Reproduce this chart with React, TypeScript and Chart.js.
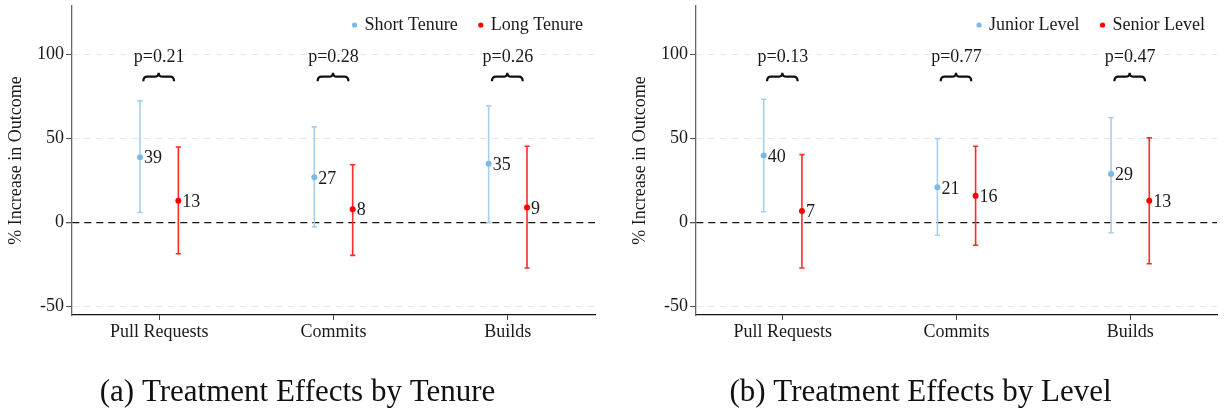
import React, { useEffect, useRef } from 'react';
import { Chart, registerables } from 'chart.js';

Chart.register(...registerables);

// ---- data -------------------------------------------------------------
const categories = ['Pull Requests', 'Commits', 'Builds'];
const yTicks = [-50, 0, 50, 100];

const tenureGroups = ['Short Tenure', 'Long Tenure'];
const shortTenureEst = [39, 27, 35];
const shortTenureLow = [6, -2.5, 0];
const shortTenureHigh = [72.5, 57, 69.5];
const longTenureEst = [13, 8, 9];
const longTenureLow = [-18.5, -19.5, -27];
const longTenureHigh = [45, 34.5, 45.5];
const tenurePValues = ['p=0.21', 'p=0.28', 'p=0.26'];

const levelGroups = ['Junior Level', 'Senior Level'];
const juniorEst = [40, 21, 29];
const juniorLow = [6.5, -7.5, -6];
const juniorHigh = [73.5, 50, 62.5];
const seniorEst = [7, 16, 13];
const seniorLow = [-27, -13.5, -24.5];
const seniorHigh = [40.5, 45.5, 50.5];
const levelPValues = ['p=0.13', 'p=0.77', 'p=0.47'];

// ---- styling ----------------------------------------------------------
const SERIF = '"Liberation Serif", "Times New Roman", Times, serif';
const TEXT = '#1a1a1a';
const pointColors = ['#7DB9E6', '#FF0000'];
const barColors = ['#A6D0EE', '#FF2A2A'];
const dodge = [-0.11, 0.11];

type PanelSpec = {
  groups: string[];
  est: number[][];
  low: number[][];
  high: number[][];
  pValues: string[];
  caption: string;
  padLeft: number;
  padRight: number;
};

const tenurePanel: PanelSpec = {
  groups: tenureGroups,
  est: [shortTenureEst, longTenureEst],
  low: [shortTenureLow, longTenureLow],
  high: [shortTenureHigh, longTenureHigh],
  pValues: tenurePValues,
  caption: '(a) Treatment Effects by Tenure',
  padLeft: 0,
  padRight: 17,
};

const levelPanel: PanelSpec = {
  groups: levelGroups,
  est: [juniorEst, seniorEst],
  low: [juniorLow, seniorLow],
  high: [juniorHigh, seniorHigh],
  pValues: levelPValues,
  caption: '(b) Treatment Effects by Level',
  padLeft: 12,
  padRight: 8,
};

// Error bars, value labels, p-value braces and the in-plot legend.
const estimatePlot = {
  id: 'estimatePlot',
  beforeDatasetsDraw(chart: any) {
    const { ctx } = chart;
    const y = chart.scales.y;
    chart.data.datasets.forEach((ds: any, di: number) => {
      const meta = chart.getDatasetMeta(di);
      meta.data.forEach((pt: any, i: number) => {
        const x = pt.x;
        const yl = y.getPixelForValue(ds.errLow[i]);
        const yh = y.getPixelForValue(ds.errHigh[i]);
        ctx.save();
        ctx.strokeStyle = ds.errColor;
        ctx.lineWidth = 1.6;
        ctx.beginPath();
        ctx.moveTo(x, yl);
        ctx.lineTo(x, yh);
        ctx.moveTo(x - 2.6, yl);
        ctx.lineTo(x + 2.6, yl);
        ctx.moveTo(x - 2.6, yh);
        ctx.lineTo(x + 2.6, yh);
        ctx.stroke();
        ctx.restore();
      });
    });
  },
  afterDatasetsDraw(chart: any, _args: any, opts: any) {
    const { ctx, chartArea } = chart;
    const x = chart.scales.x;
    const y = chart.scales.y;
    ctx.save();
    ctx.font = `18px ${SERIF}`;
    ctx.fillStyle = TEXT;

    // estimate labels next to each point
    ctx.textAlign = 'left';
    ctx.textBaseline = 'middle';
    chart.data.datasets.forEach((ds: any, di: number) => {
      const meta = chart.getDatasetMeta(di);
      meta.data.forEach((pt: any, i: number) => {
        ctx.fillText(String(ds.est[i]), pt.x + 4, pt.y + 1.5);
      });
    });

    // p-values with an over-brace spanning both groups
    const m0 = chart.getDatasetMeta(0);
    const m1 = chart.getDatasetMeta(1);
    (opts.pValues as string[]).forEach((label, i) => {
      const cx = x.getPixelForValue(i);
      ctx.textAlign = 'center';
      ctx.textBaseline = 'alphabetic';
      ctx.fillStyle = TEXT;
      ctx.fillText(label, cx, y.getPixelForValue(opts.pLabelAt));

      const x0 = m0.data[i].x + 3.3;
      const x1 = m1.data[i].x - 4.3;
      const xc = (x0 + x1) / 2;
      const yTip = y.getPixelForValue(opts.braceAt);
      const yArm = yTip + 4;
      const yEnd = yTip + 8.5;
      const r = 4;
      ctx.beginPath();
      ctx.moveTo(x0, yEnd);
      ctx.quadraticCurveTo(x0, yArm, x0 + r, yArm);
      ctx.lineTo(xc - r, yArm);
      ctx.quadraticCurveTo(xc, yArm, xc, yTip);
      ctx.quadraticCurveTo(xc, yArm, xc + r, yArm);
      ctx.lineTo(x1 - r, yArm);
      ctx.quadraticCurveTo(x1, yArm, x1, yEnd);
      ctx.strokeStyle = '#111';
      ctx.lineWidth = 2.2;
      ctx.stroke();
    });

    // legend, right-aligned along the top of the plot
    ctx.textAlign = 'left';
    ctx.textBaseline = 'middle';
    let right = chartArea.right - 12;
    const ly = chartArea.top + 19;
    const list = chart.data.datasets;
    for (let k = list.length - 1; k >= 0; k--) {
      const ds = list[k];
      const w = ctx.measureText(ds.label).width;
      const tx = right - w;
      ctx.fillStyle = TEXT;
      ctx.fillText(ds.label, tx, ly);
      const dx = tx - 10;
      ctx.beginPath();
      ctx.arc(dx, ly, 2.6, 0, Math.PI * 2);
      ctx.fillStyle = ds.pointBackgroundColor;
      ctx.fill();
      right = dx - 23;
    }
    ctx.restore();
  },
};

function buildConfig(spec: PanelSpec): any {
  const datasets = spec.groups.map((g, gi) => ({
    type: 'scatter',
    label: g,
    data: spec.est[gi].map((v, i) => ({ x: i + dodge[gi], y: v })),
    est: spec.est[gi],
    errLow: spec.low[gi],
    errHigh: spec.high[gi],
    errColor: barColors[gi],
    pointBackgroundColor: pointColors[gi],
    pointBorderWidth: 0,
    pointRadius: 3,
    showLine: false,
  }));

  const tickFont = { family: SERIF, size: 18 };

  return {
    type: 'scatter',
    data: { datasets },
    plugins: [estimatePlot],
    options: {
      animation: false,
      responsive: false,
      events: [],
      layout: { padding: { left: spec.padLeft, top: 6, right: spec.padRight, bottom: 1 } },
      plugins: {
        legend: { display: false },
        tooltip: { enabled: false },
        title: {
          display: true,
          position: 'bottom',
          text: spec.caption,
          color: '#111',
          font: { family: SERIF, size: 31, weight: 'normal' },
          padding: 0,
        },
        estimatePlot: { pValues: spec.pValues, pLabelAt: 95.5, braceAt: 89.3 },
      },
      scales: {
        x: {
          type: 'linear',
          min: -0.5,
          max: 2.5,
          afterBuildTicks: (s: any) => {
            s.ticks = categories.map((_, i) => ({ value: i }));
          },
          afterFit: (s: any) => {
            s.height = 58.8;
            s.paddingLeft = 0;
            s.paddingRight = 0;
          },
          ticks: {
            callback: (v: number) => categories[Math.round(v)] ?? '',
            font: tickFont,
            color: TEXT,
            padding: 1,
            autoSkip: false,
            maxRotation: 0,
          },
          grid: { drawOnChartArea: false, drawTicks: true, tickLength: 5, tickColor: '#444' },
          border: { color: '#111', width: 1.3 },
        },
        y: {
          type: 'linear',
          min: -55,
          max: 129,
          afterBuildTicks: (s: any) => {
            s.ticks = yTicks.map((v) => ({ value: v }));
          },
          afterFit: (s: any) => {
            s.width = 72;
            s.paddingTop = 0;
            s.paddingBottom = 0;
          },
          ticks: {
            callback: (v: number) => String(v),
            font: tickFont,
            color: TEXT,
            padding: 2,
          },
          grid: {
            color: (c: any) => (c.tick && c.tick.value === 0 ? '#111' : '#e6e6e6'),
            lineWidth: (c: any) => (c.tick && c.tick.value === 0 ? 1.3 : 1),
            drawTicks: true,
            tickLength: 6,
            tickColor: '#555',
          },
          border: {
            color: '#666',
            width: 1.3,
            dash: (c: any) => (c.tick && c.tick.value === 0 ? [7, 5] : [6, 6]),
          },
          title: {
            display: true,
            text: '% Increase in Outcome',
            color: TEXT,
            font: { family: SERIF, size: 18 },
            padding: { top: 5, bottom: 0 },
          },
        },
      },
    },
  };
}

function PanelChart({ spec, x, width }: { spec: PanelSpec; x: number; width: number }) {
  const ref = useRef<HTMLCanvasElement | null>(null);
  useEffect(() => {
    if (!ref.current) return;
    const chart = new Chart(ref.current, buildConfig(spec));
    return () => chart.destroy();
  }, [spec]);
  return (
    <canvas
      ref={ref}
      width={width}
      height={412}
      style={{ position: 'absolute', left: x, top: 0, width, height: 412, display: 'block' }}
    />
  );
}

export default function App() {
  return (
    <div style={{ position: 'fixed', left: 0, top: 0, width: 1225, height: 412, background: '#fff' }}>
      <PanelChart spec={tenurePanel} x={0} width={612} />
      <PanelChart spec={levelPanel} x={612} width={613} />
    </div>
  );
}
